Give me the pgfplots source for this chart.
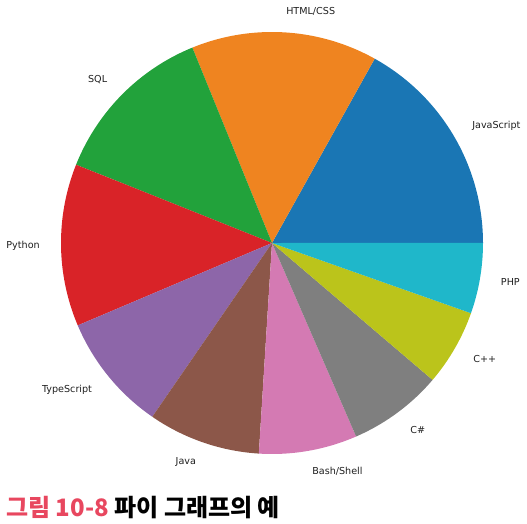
\documentclass[border=0pt]{standalone}
\usepackage{pgfplots}
\usepackage{pgfplotstable}
\pgfplotsset{compat=1.18}
\usepackage{fontspec}
\setmainfont{DejaVu Sans}
\newfontfamily\krfont{Noto Sans CJK KR}
\definecolor{c0}{HTML}{1A76B4}
\definecolor{c1}{HTML}{EF8420}
\definecolor{c2}{HTML}{22A23B}
\definecolor{c3}{HTML}{D92328}
\definecolor{c4}{HTML}{8D66A9}
\definecolor{c5}{HTML}{8C5749}
\definecolor{c6}{HTML}{D47AB3}
\definecolor{c7}{HTML}{7F7F7F}
\definecolor{c8}{HTML}{BBC41B}
\definecolor{c9}{HTML}{1FB7CA}
\definecolor{capred}{HTML}{E8475F}
\pgfplotstableread{
idx share
0 65.36
1 55.08
2 49.43
3 48.07
4 34.83
5 33.27
6 29.07
7 27.98
8 22.55
9 20.87
}\langdata
\begin{document}
\begin{tikzpicture}
\def\total{0}
\pgfplotsforeachungrouped \i in {0,...,9}{%
  \pgfplotstablegetelem{\i}{share}\of\langdata
  \pgfmathsetmacro{\total}{\total+\pgfplotsretval}%
}
\def\cum{0}
\pgfplotsforeachungrouped \i in {0,...,9}{%
  \pgfplotstablegetelem{\i}{share}\of\langdata
  \pgfmathsetmacro{\start}{\cum}%
  \pgfmathsetmacro{\cum}{\cum+\pgfplotsretval/\total*360}%
  \pgfmathsetmacro{\mid}{(\start+\cum)/2}%
  \expandafter\xdef\csname s\i\endcsname{\start}%
  \expandafter\xdef\csname e\i\endcsname{\cum}%
  \expandafter\xdef\csname m\i\endcsname{\mid}%
}
\begin{axis}[at={(0,0)}, anchor=south west, scale only axis,
  width=527pt, height=523pt, xmin=0, xmax=527, ymin=0, ymax=523,
  hide axis, clip=false]
\path (axis cs:0,0) rectangle (axis cs:527,523);
\pgfplotsinvokeforeach{0,...,9}{%
  \addplot[fill=c#1, draw=none, domain=\csname s#1\endcsname:\csname e#1\endcsname,
    samples=90, variable=\t]
    ({272+211*cos(\t)},{280+211*sin(\t)}) -- (axis cs:272,280) -- cycle;
}
\def\lbl#1#2#3{\node[anchor=#2, font=\fontsize{9.6}{11}\selectfont, inner sep=0pt, text=black!88]
  at (axis cs:{272+232.1*cos(\csname m#1\endcsname)},{280+232.1*sin(\csname m#1\endcsname)}) {#3};}
\lbl{0}{west}{JavaScript}
\lbl{1}{west}{HTML/CSS}
\lbl{2}{east}{SQL}
\lbl{3}{east}{Python}
\lbl{4}{east}{TypeScript}
\lbl{5}{east}{Java}
\lbl{6}{west}{Bash/Shell}
\lbl{7}{west}{C\#}
\lbl{8}{west}{C++}
\lbl{9}{west}{PHP}
\node[anchor=base west, inner sep=0pt, font=\krfont\bfseries\fontsize{24}{27}\selectfont]
  at (axis cs:6,7) {\textcolor{capred}{그림 10-8} 파이 그래프의 예};
\end{axis}
\end{tikzpicture}
\end{document}
